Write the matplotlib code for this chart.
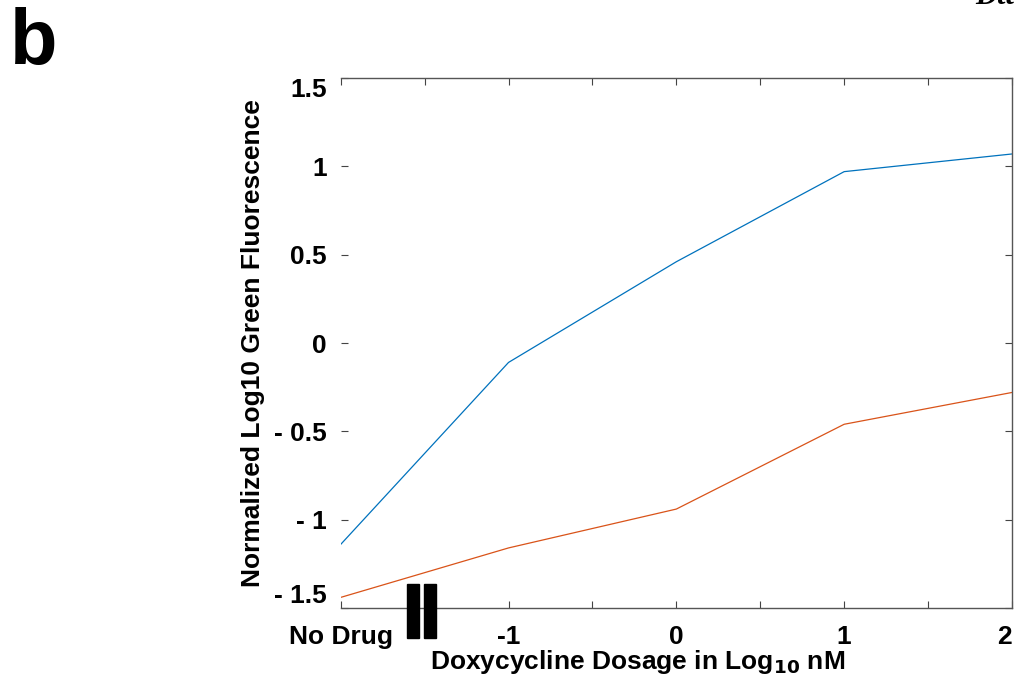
import numpy as np
import matplotlib
matplotlib.use("Agg")
import matplotlib.pyplot as plt
from matplotlib.patches import Rectangle

plt.rcParams['font.family'] = ['Liberation Sans', 'DejaVu Sans']

# Dosage positions (log10 nM); -2 stands in for the no-drug control
dose = [-2, -1, 0, 1, 2]
blue_vals = [-1.14, -0.11, 0.46, 0.97, 1.07]
orange_vals = [-1.44, -1.16, -0.94, -0.46, -0.28]

xtick_pos = [-2, -1.5, -1, -0.5, 0, 0.5, 1, 1.5, 2]
xtick_labels = ['No Drug', '', '-1', '', '0', '', '1', '', '2']
ytick_pos = [-1.5, -1, -0.5, 0, 0.5, 1, 1.5]
ytick_labels = ['- 1.5', '- 1', '- 0.5', '0', '0.5', '1', '1.5']

BLUE = (0.0, 0.447, 0.741)
ORANGE = (0.85, 0.325, 0.098)
FS = 19

fig = plt.figure(figsize=(10.14, 6.76), dpi=100)
ax = fig.add_axes([0.336, 0.1006, 0.662, 0.784])

ax.plot(dose, blue_vals, color=BLUE, linewidth=0.9)
ax.plot(dose, orange_vals, color=ORANGE, linewidth=0.9)

ax.set_xlim(-2, 2)
ax.set_ylim(-1.5, 1.5)

# box without the left edge, ticks pointing in on every side
ax.spines['left'].set_visible(False)
for s in ['top', 'right', 'bottom']:
    ax.spines[s].set_color('#555555')
    ax.spines[s].set_linewidth(1.0)
ax.tick_params(direction='in', top=True, right=True, length=5, width=0.8,
               color='#444444', labelsize=FS)
ax.tick_params(axis='x', pad=12)
ax.tick_params(axis='y', pad=10)
ax.set_xticks(xtick_pos)
ax.set_xticklabels(xtick_labels, fontweight='bold')
xlabs = ax.get_xticklabels()
xlabs[-1].set_ha('right')
ax.set_yticks(ytick_pos)
ax.set_yticklabels(ytick_labels, fontweight='bold')
ylabs = ax.get_yticklabels()
ylabs[0].set_va('bottom')
ylabs[-1].set_va('top')

ax.set_xlabel('Doxycycline Dosage in Log$_{\\mathbf{10}}$ nM', fontsize=FS,
              fontweight='bold')
ax.xaxis.set_label_coords(0.443, -0.076)
ax.set_ylabel('Normalized Log10 Green Fluorescence', fontsize=FS,
              fontweight='bold')
ax.yaxis.set_label_coords(-0.113, 0.5)

# axis break marker between the control and the dosed samples
for bx in [-1.605, -1.505]:
    ax.add_patch(Rectangle((bx, -1.67), 0.072, 0.305, color='black',
                           clip_on=False, zorder=5))

fig.text(0.01, 0.99, 'b', fontsize=56, fontweight='bold', va='top', ha='left')
fig.text(0.962, 0.994, 'Dtt', fontsize=22, style='italic', family='Liberation Serif',
         fontweight='bold', va='baseline', ha='left')

fig.savefig('out.png', dpi=100)
